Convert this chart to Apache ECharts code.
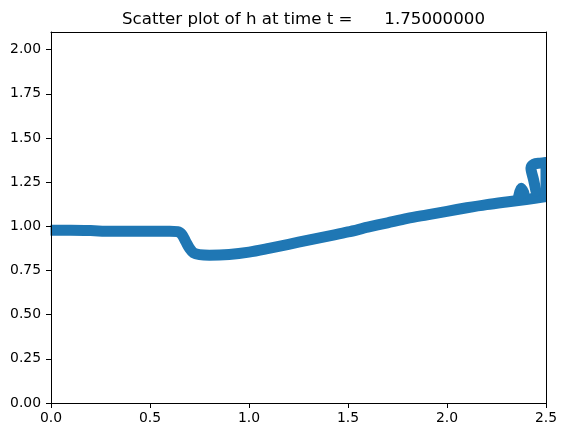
<!DOCTYPE html>
<html>
<head>
<meta charset="utf-8">
<script src="https://cdn.jsdelivr.net/npm/echarts@6/dist/echarts.min.js"></script>
<style>html,body{margin:0;padding:0;background:#fff;}#c{width:567px;height:435px;}</style>
</head>
<body>
<div id="c"></div>
<script>
// Main profile of h along x
var xMain = [0.00, 0.10, 0.20, 0.30, 0.40, 0.50, 0.60, 0.64, 0.66, 0.68, 0.70, 0.72, 0.75, 0.80, 0.90, 1.00, 1.10, 1.20, 1.30, 1.40, 1.50, 1.60, 1.70, 1.80, 1.90, 2.00, 2.10, 2.20, 2.30, 2.40, 2.50];
var hMain = [0.978, 0.978, 0.976, 0.972, 0.972, 0.972, 0.972, 0.970, 0.955, 0.915, 0.875, 0.850, 0.840, 0.837, 0.841, 0.854, 0.875, 0.898, 0.922, 0.945, 0.968, 0.995, 1.020, 1.045, 1.065, 1.085, 1.105, 1.123, 1.138, 1.152, 1.168];
// small bump near the right boundary
var xBump = [2.362, 2.375, 2.388];
var hBump = [1.170, 1.215, 1.190];
// raised branch near the right boundary
var xRise = [2.449, 2.437, 2.424, 2.440, 2.470, 2.500];
var hRise = [1.200, 1.265, 1.330, 1.352, 1.358, 1.362];
// points on the boundary x = 2.5
var xEdge = [2.500, 2.500];
var hEdge = [1.170, 1.360];

var xTicks = [0, 0.5, 1.0, 1.5, 2.0, 2.5];
var yTicks = [0, 0.25, 0.5, 0.75, 1.0, 1.25, 1.5, 1.75, 2.0];
var titleText = 'Scatter plot of h at time t =      1.75000000';

function pairs(xs, ys) { return xs.map(function (x, i) { return [x, ys[i]]; }); }

var blue = '#1f77b4';
var font = 'DejaVu Sans';
function seg(xs, ys) {
  return {
    type: 'line', data: pairs(xs, ys), showSymbol: false, symbol: 'none',
    smooth: 0.3, clip: true, silent: true, z: 2,
    lineStyle: { color: blue, width: 11, cap: 'round', join: 'round' }
  };
}

var G = { left: 51, right: 21, top: 32, bottom: 32 };
var W = 567, H = 435;

var chart = echarts.init(document.getElementById('c'), null, { renderer: 'canvas' });
chart.setOption({
  animation: false,
  backgroundColor: '#fff',
  title: {
    text: titleText, left: 298.5, textAlign: 'center', top: 6,
    textStyle: { fontFamily: font, fontSize: 16.67, fontWeight: 'normal', color: '#000' }
  },
  grid: { left: G.left, right: G.right, top: G.top, bottom: G.bottom, containLabel: false },
  // mask the part of the thick band that ECharts lets spill past the plot edges
  graphic: [
    { type: 'rect', z: 5, silent: true, shape: { x: G.left - 12, y: G.top - 6, width: 11.5, height: H - G.top - G.bottom + 12 }, style: { fill: '#fff' } },
    { type: 'rect', z: 5, silent: true, shape: { x: W - G.right + 0.5, y: G.top - 6, width: 12, height: H - G.top - G.bottom + 12 }, style: { fill: '#fff' } }
  ],
  xAxis: [{
    type: 'value', min: 0, max: 2.5, interval: 0.5, z: 10,
    axisLine: { show: true, lineStyle: { color: '#000', width: 1 } },
    axisTick: { show: true, inside: false, length: 5, lineStyle: { color: '#000' } },
    axisLabel: { margin: 8, color: '#000', fontFamily: font, fontSize: 13.9,
      formatter: function (v) { return v.toFixed(1); } },
    splitLine: { show: false }
  }, {
    type: 'value', position: 'top', min: 0, max: 2.5, z: 10,
    axisLine: { show: true, onZero: false, lineStyle: { color: '#000', width: 1 } },
    axisTick: { show: false }, axisLabel: { show: false }, splitLine: { show: false }
  }],
  yAxis: [{
    type: 'value', min: 0, max: 2.1, interval: 0.25, z: 10,
    axisLine: { show: true, lineStyle: { color: '#000', width: 1 } },
    axisTick: { show: true, inside: false, length: 5, lineStyle: { color: '#000' } },
    axisLabel: { margin: 10, color: '#000', fontFamily: font, fontSize: 13.9, showMaxLabel: false,
      formatter: function (v) { return yTicks.indexOf(v) >= 0 ? v.toFixed(2) : ''; } },
    splitLine: { show: false }
  }, {
    type: 'value', position: 'right', min: 0, max: 2.1, z: 10,
    axisLine: { show: true, onZero: false, lineStyle: { color: '#000', width: 1 } },
    axisTick: { show: false }, axisLabel: { show: false }, splitLine: { show: false }
  }],
  series: [seg(xMain, hMain), seg(xBump, hBump), seg(xRise, hRise), seg(xEdge, hEdge)]
});
</script>
</body>
</html>
